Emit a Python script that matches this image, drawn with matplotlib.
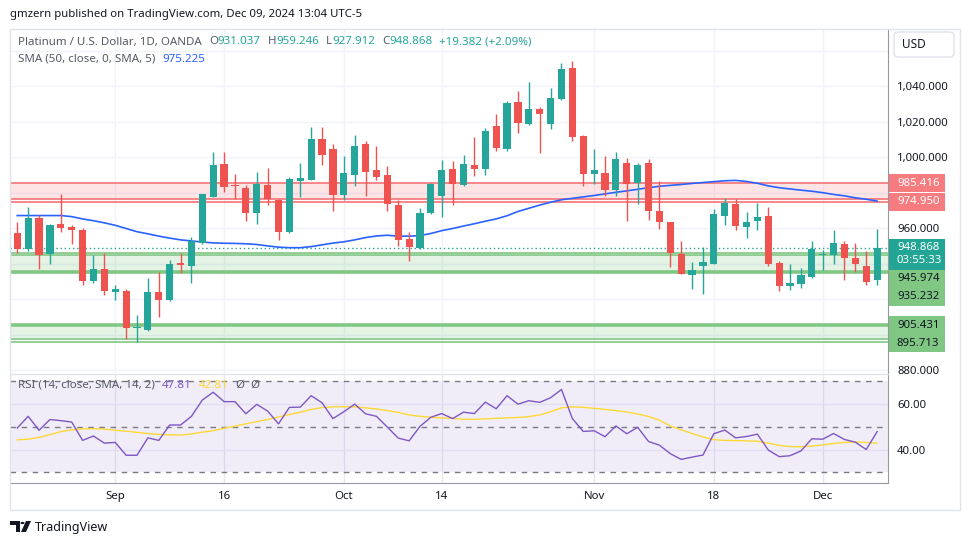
import matplotlib
matplotlib.use("Agg")
import matplotlib.pyplot as plt
from matplotlib.patches import Rectangle, FancyBboxPatch, Polygon, Circle
import numpy as np

# daily candles, Aug 20 -> Dec 09 2024 (weekdays)
opens = [957.0, 948.1, 966.0, 945.3, 962.6, 960.9, 959.2, 930.0, 937.2, 923.8,
         924.7, 903.6, 902.5, 924.2, 919.3, 940.6, 938.5, 951.5, 977.5, 995.9,
         984.1, 982.4, 968.4, 984.1, 975.6, 957.7, 986.5, 987.1, 1010.1, 1004.4,
         978.4, 989.7, 1007.2, 992.5, 989.7, 973.3, 954.1, 948.7, 968.4, 978.0,
         993.1, 984.3, 995.4, 993.3, 1017.4, 1004.6, 1031.0, 1018.7, 1027.0, 1018.7,
         1032.7, 1050.2, 1011.8, 990.5, 990.8, 981.4, 996.5, 985.4, 996.5, 969.4,
         963.2, 945.6, 933.5, 938.8, 939.8, 967.0, 973.6, 960.8, 964.1, 966.8,
         940.2, 927.4, 928.5, 932.5, 944.7, 944.7, 951.3, 943.4, 938.8, 931.037]
highs = [963.2, 972.2, 967.5, 962.6, 979.5, 961.7, 960.3, 944.9, 946.0, 928.1,
         925.7, 911.2, 931.9, 935.3, 942.1, 946.0, 955.3, 979.5, 1002.7, 1002.7,
         990.3, 984.4, 991.4, 993.7, 976.3, 988.6, 996.5, 1016.8, 1016.8, 1007.2,
         1000.5, 1012.3, 1008.9, 1006.1, 994.8, 976.0, 958.1, 971.6, 985.2, 998.2,
         997.6, 1001.0, 1011.2, 1016.3, 1024.2, 1031.5, 1037.2, 1042.3, 1028.1, 1038.9,
         1053.0, 1054.1, 1012.3, 1004.4, 1000.5, 1002.7, 999.3, 996.5, 998.8, 986.3,
         963.7, 953.0, 941.2, 949.4, 970.7, 976.9, 976.4, 969.1, 974.1, 971.8,
         941.4, 940.0, 937.3, 952.7, 947.9, 959.2, 953.0, 951.9, 947.3, 959.246]
lows = [945.8, 947.0, 936.8, 939.6, 957.7, 950.9, 927.8, 928.9, 922.1, 919.3,
        897.3, 896.1, 902.3, 910.2, 918.7, 934.5, 928.9, 950.9, 977.3, 980.3,
        976.5, 963.9, 962.2, 973.0, 953.2, 957.5, 977.3, 986.9, 995.6, 969.6,
        975.8, 983.7, 978.0, 986.9, 969.6, 949.8, 941.7, 948.5, 968.2, 966.2,
        973.0, 983.7, 989.3, 989.9, 1003.5, 1003.5, 1013.6, 1018.2, 1002.3, 1015.9,
        1032.1, 1009.1, 983.7, 984.8, 978.0, 978.0, 963.9, 973.5, 964.5, 959.4,
        937.9, 934.0, 925.5, 922.9, 939.6, 961.9, 959.1, 954.6, 959.1, 938.7,
        924.6, 925.2, 926.3, 931.9, 936.4, 940.0, 930.9, 935.4, 927.7, 927.912]
closes = [948.1, 966.0, 944.7, 962.0, 960.0, 958.8, 930.0, 937.2, 924.4, 925.9,
          903.5, 903.9, 924.2, 919.3, 940.0, 939.1, 952.8, 979.0, 995.4, 983.1,
          983.7, 968.4, 984.6, 976.5, 957.7, 987.5, 988.0, 1010.1, 1001.2, 978.4,
          990.8, 1006.1, 991.4, 988.6, 973.5, 953.6, 949.2, 968.8, 984.6, 992.5,
          984.8, 995.9, 993.3, 1014.6, 1005.2, 1030.4, 1019.3, 1027.0, 1024.4, 1033.2,
          1049.6, 1011.4, 990.5, 992.5, 981.4, 998.8, 984.8, 995.4, 969.6, 963.4,
          946.0, 934.0, 936.7, 940.8, 967.9, 974.1, 961.3, 963.5, 966.2, 939.8,
          927.4, 928.9, 933.4, 948.1, 945.1, 951.9, 943.0, 939.6, 929.486, 948.868]

sma50 = [967.1, 967.1, 967.1, 967.1, 967.1, 966.5, 965.2, 964.2, 963.0, 961.6,
         959.8, 958.0, 956.8, 955.5, 954.4, 953.4, 952.8, 952.2, 951.7, 951.5,
         951.4, 951.2, 950.8, 950.0, 949.3, 949.0, 949.0, 949.6, 950.6, 951.6,
         952.3, 953.4, 954.7, 955.6, 956.0, 955.5, 955.5, 955.8, 957.0, 958.6,
         959.8, 961.2, 962.5, 963.9, 965.2, 967.0, 969.4, 971.2, 973.0, 974.6,
         976.0, 976.8, 977.6, 978.4, 979.3, 980.2, 981.0, 981.9, 982.8, 983.6,
         984.1, 984.6, 985.2, 985.7, 986.2, 986.7, 986.9, 986.3, 985.3, 983.8,
         982.8, 982.1, 981.4, 980.8, 980.0, 979.0, 978.2, 977.1, 976.3, 975.225]

rsi = [49.4, 54.5, 48.4, 53.1, 52.6, 52.0, 44.0, 45.9, 42.8, 43.1,
       37.5, 37.5, 45.1, 44.0, 50.7, 50.7, 54.5, 61.6, 65.0, 60.9,
       60.9, 55.6, 59.7, 56.8, 51.2, 58.4, 58.5, 63.5, 60.4, 53.5,
       56.5, 59.8, 55.6, 54.5, 49.8, 45.0, 43.8, 50.1, 54.1, 55.7,
       53.5, 56.3, 55.7, 60.7, 57.8, 63.5, 59.8, 61.3, 60.6, 62.6,
       66.2, 53.5, 47.9, 48.2, 45.6, 50.3, 46.9, 49.7, 43.5, 41.9,
       38.2, 35.7, 36.7, 37.6, 46.9, 48.5, 45.1, 45.7, 46.7, 39.8,
       36.9, 37.3, 39.4, 44.7, 44.5, 47.0, 44.4, 43.2, 40.0, 47.81]
rsi_ma = [44.2, 44.5, 45.3, 46.5, 47.8, 48.6, 49.0, 49.1, 48.9, 48.4,
          48.0, 47.5, 47.0, 46.6, 46.4, 46.3, 46.8, 47.6, 48.2, 49.3,
          50.2, 51.2, 52.2, 53.1, 54.2, 55.3, 56.3, 57.5, 58.3, 58.6,
          58.7, 58.6, 58.2, 57.7, 57.0, 56.2, 55.1, 54.5, 54.1, 53.8,
          53.6, 53.2, 53.2, 53.4, 53.6, 53.8, 54.0, 54.4, 55.1, 56.5,
          58.2, 58.6, 58.4, 58.0, 57.5, 57.0, 56.4, 55.5, 54.4, 52.8,
          50.3, 48.6, 47.0, 45.5, 44.3, 44.0, 43.9, 43.8, 43.6, 42.8,
          41.8, 41.3, 41.2, 41.5, 42.0, 42.7, 43.1, 43.3, 43.1, 42.81]

date_labels = ["Sep", "16", "Oct", "14", "Nov", "18", "Dec"]
date_idx = [9, 19, 30, 39, 53, 64, 74]
price_ticks = [880, 900, 920, 940, 960, 980, 1000, 1020, 1040, 1060]
rsi_ticks = [40, 60]

# drawn levels
resist_zone = (976.6, 985.416)
resist_lines = [985.416, 976.6, 974.950]
support_zones = [(935.4, 945.1), (897.8, 905.431)]
support_thin = [945.974, 945.1, 897.8, 895.713]
support_thick = [935.232, 905.431]
countdown = "03:55:33"

UP = "#26a69a"
DOWN = "#ef5350"
GRID = "#f0f3fa"
TXT = "#131722"
GREY = "#555a66"
W, H = 970, 545
plt.rcParams["font.family"] = ["Noto Sans", "DejaVu Sans"]

fig = plt.figure(figsize=(9.7, 5.45), dpi=100)
fig.patch.set_facecolor("white")


def fbox(x0, y0, x1, y1):
    return [x0 / W, 1 - y1 / H, (x1 - x0) / W, (y1 - y0) / H]


ax = fig.add_axes(fbox(10, 29, 888, 373))
ax2 = fig.add_axes(fbox(10, 374, 888, 483), sharex=ax)

x = np.arange(len(closes))
o = np.array(opens)
c = np.array(closes)
cols = [UP if cc >= oo else DOWN for oo, cc in zip(o, c)]

# --- price pane
ax.set_xlim(-0.67, 80.0)
ax.set_ylim(878.4, 1072.2)
for p in price_ticks:
    ax.axhline(p, color=GRID, lw=1, zorder=0)
for d in date_idx:
    ax.axvline(d, color=GRID, lw=1, zorder=0)
    ax2.axvline(d, color="#e9e6f3", lw=1, zorder=0)

ax.axhspan(*resist_zone, color="#f23645", alpha=0.13, lw=0, zorder=1)
for lv in resist_lines:
    ax.axhline(lv, color="#f77c80", lw=1.3, zorder=1)
for lo, hi in support_zones:
    ax.axhspan(lo, hi, color="#4caf50", alpha=0.15, lw=0, zorder=1)
for lv in support_thin:
    ax.axhline(lv, color="#81c784", lw=1.2, zorder=1)
for lv in support_thick:
    ax.axhline(lv, color="#81c784", lw=2.6, zorder=1)

ax.axhline(closes[-1], color=UP, lw=1, ls=(0, (1, 2)), zorder=2)
ax.plot(x, sma50, color="#2962ff", lw=1.2, zorder=3)

ax.vlines(x, lows, highs, colors=cols, lw=1, zorder=4)
ax.bar(x, np.maximum(np.abs(c - o), 0.6), bottom=np.minimum(o, c), width=0.66,
       color=cols, lw=0, zorder=5)

# --- price tags on the right axis (pushed down when they overlap, like TV does)
tags = [(985.416, "985.416", "#f77c80", "white"),
        (974.950, "974.950", "#f77c80", "white"),
        (closes[-1], f"{closes[-1]:.3f}", "#22a595", "white"),
        (None, countdown, "#22a595", "white"),
        (945.974, "945.974", "#81c784", TXT),
        (935.232, "935.232", "#81c784", TXT),
        (905.431, "905.431", "#81c784", TXT),
        (895.713, "895.713", "#81c784", TXT)]
row_h = 18.0
prev = -1e9
spans = [(31, 57)]  # USD box
rows = []
for price, label, fc, tc in tags:
    if price is None:
        yy = prev + 12.6
        top = prev + 3
    else:
        yy = H - ax.transData.transform((0, price))[1]
        yy = max(yy, prev + row_h)
        top = yy - 9
    rows.append((yy, top, label, fc, tc))
    spans.append((top, yy + 9))
    prev = yy


def covered(ypix):
    return any(a - 5 <= ypix <= b + 5 for a, b in spans)


tick_txt = []
for p in price_ticks:
    yp = H - ax.transData.transform((0, p))[1]
    tick_txt.append("" if covered(yp) else f"{p:,.3f}")

ax.yaxis.tick_right()
ax.set_yticks(price_ticks)
ax.set_yticklabels(tick_txt)
ax.tick_params(axis="y", length=0, pad=6.5, labelsize=8.2, labelcolor=TXT)
ax.tick_params(axis="x", length=0, labelbottom=False)
for t in ax.get_yticklabels():
    t.set_horizontalalignment("left")
for s in ["top", "left", "bottom"]:
    ax.spines[s].set_visible(False)
ax.spines["right"].set_color("#9598a1")

for yy, top, label, fc, tc in rows:
    fig.add_artist(Rectangle((889 / W, 1 - (yy + 9) / H), 56 / W, (yy + 9 - top) / H,
                             transform=fig.transFigure, fc=fc, ec="none", zorder=10))
    fig.text(897 / W, 1 - yy / H, label, color=tc, fontsize=8.2, va="center", ha="left",
             zorder=11)

fig.add_artist(FancyBboxPatch((894 / W, 1 - 57 / H), 60 / W, 25 / H,
                              boxstyle="round,pad=0,rounding_size=0.006",
                              transform=fig.transFigure, fc="white", ec="#e0e3eb",
                              lw=1, zorder=10))
fig.text(902 / W, 1 - 44.5 / H, "USD", fontsize=8.5, color=TXT, va="center", zorder=11)

# --- RSI pane
ax2.set_ylim(25.4, 72.96)
ax2.axhspan(30, 70, color="#7e57c2", alpha=0.1, lw=0, zorder=0)
for g in rsi_ticks:
    ax2.axhline(g, color="#e2ddf0", lw=1, zorder=0.5)
for lv in [70, 50, 30]:
    ax2.axhline(lv, color="#787b86", lw=1, ls=(0, (4, 4)), zorder=1)
ax2.plot(x, rsi_ma, color="#fdd835", lw=1, zorder=2)
ax2.plot(x, rsi, color="#7e57c2", lw=1, zorder=3)
ax2.yaxis.tick_right()
ax2.set_yticks(rsi_ticks)
ax2.set_yticklabels([f"{v:.2f}" for v in rsi_ticks])
ax2.tick_params(axis="y", length=0, pad=6.5, labelsize=8.2, labelcolor=TXT)
for t in ax2.get_yticklabels():
    t.set_horizontalalignment("left")
ax2.set_xticks(date_idx)
ax2.set_xticklabels(date_labels)
ax2.tick_params(axis="x", length=0, pad=6, labelsize=8.2, labelcolor=TXT)
ax2.spines["top"].set_visible(False)
ax2.spines["left"].set_visible(False)
ax2.spines["right"].set_color("#9598a1")
ax2.spines["bottom"].set_color("#9598a1")

# frame and pane separator
fig.add_artist(Rectangle((10 / W, 1 - 510 / H), 950 / W, 481 / H, transform=fig.transFigure,
                         fill=False, ec="#e0e3eb", lw=1))
fig.add_artist(plt.Line2D([10 / W, 888 / W], [1 - 373.5 / H] * 2, transform=fig.transFigure,
                          color="#e0e3eb", lw=1))

# --- legends
fig.canvas.draw()
renderer = fig.canvas.get_renderer()


def pieces(x0, y0, parts, size=8.3):
    xp = x0
    for s, col, gap in parts:
        t = fig.text(xp / W, 1 - y0 / H, s, color=col, fontsize=size, va="center", ha="left")
        xp += t.get_window_extent(renderer).width + gap


chg = closes[-1] - closes[-2]
pieces(18, 42, [("Platinum / U.S. Dollar, 1D, OANDA", GREY, 7),
                ("O", GREY, 0), (f"{opens[-1]:.3f}", UP, 7),
                ("H", GREY, 0), (f"{highs[-1]:.3f}", UP, 7),
                ("L", GREY, 0), (f"{lows[-1]:.3f}", UP, 7),
                ("C", GREY, 0), (f"{closes[-1]:.3f}", UP, 7),
                (f"+{chg:.3f} (+{chg / closes[-2] * 100:.2f}%)", UP, 0)])
pieces(18, 59, [("SMA (50, close, 0, SMA, 5)", GREY, 7),
                (f"{sma50[-1]:.3f}", "#2962ff", 0)])
pieces(18, 385, [("RSI (14, close, SMA, 14, 2)", GREY, 7),
                 (f"{rsi[-1]:.2f}", "#7e57c2", 7),
                 (f"{rsi_ma[-1]:.2f}", "#fdd835", 7),
                 ("\u00d8", GREY, 6), ("\u00d8", GREY, 0)])

fig.text(10 / W, 1 - 14 / H, "gmzern published on TradingView.com, Dec 09, 2024 13:04 UTC-5",
         fontsize=8.2, color=TXT, va="center")

# footer logo + name
fig.add_artist(Polygon([[10 / W, 1 - 521 / H], [20 / W, 1 - 521 / H], [20 / W, 1 - 532 / H],
                        [16 / W, 1 - 532 / H], [16 / W, 1 - 525 / H], [10 / W, 1 - 525 / H]],
                       closed=True, transform=fig.transFigure, fc=TXT, ec="none"))
fig.add_artist(Circle((22.5 / W, 1 - 523 / H), 2 / W, transform=fig.transFigure, fc=TXT, ec="none"))
fig.add_artist(Polygon([[26 / W, 1 - 521 / H], [31 / W, 1 - 521 / H], [26 / W, 1 - 532 / H],
                        [21 / W, 1 - 532 / H]],
                       closed=True, transform=fig.transFigure, fc=TXT, ec="none"))
fig.text(35 / W, 1 - 527 / H, "TradingView", fontsize=9, color=TXT, va="center")

fig.savefig("out.png", dpi=100)
